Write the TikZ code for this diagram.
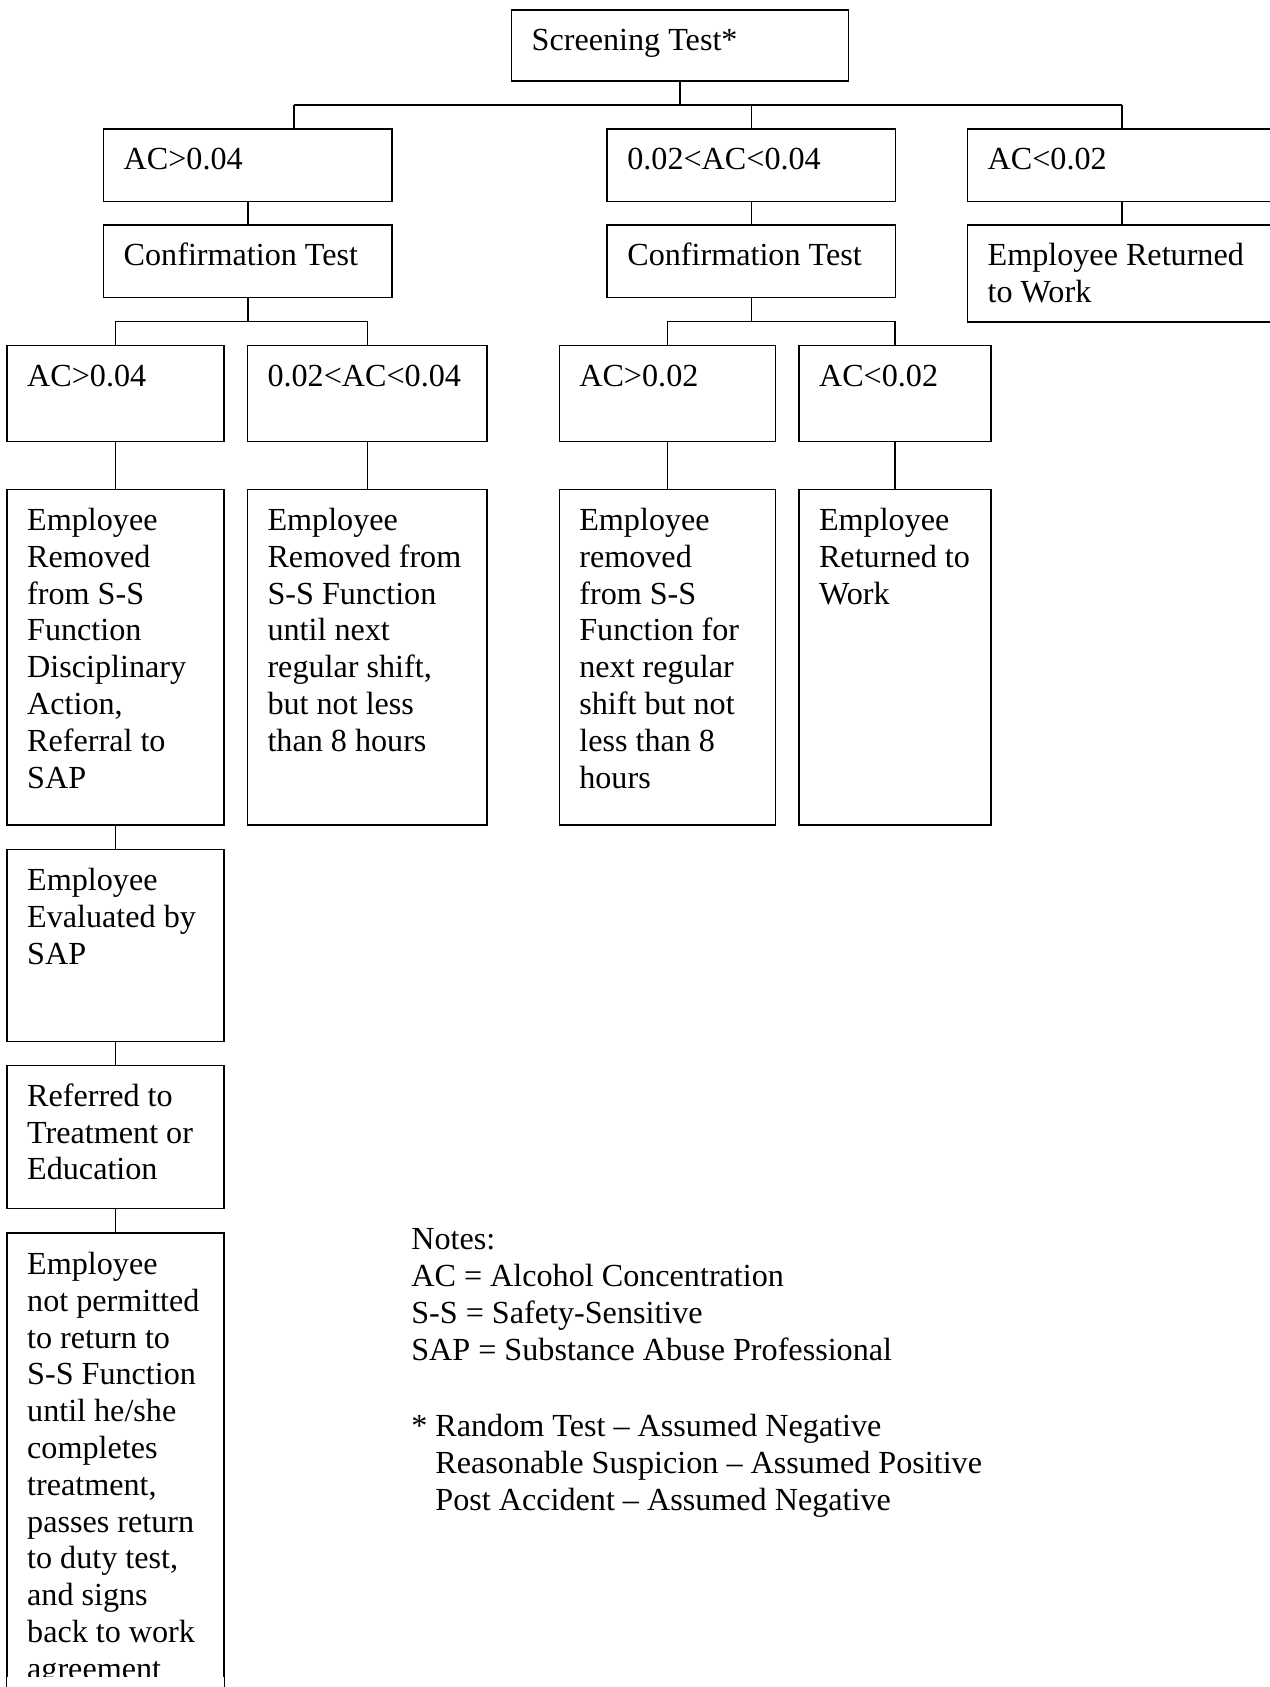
\documentclass[tikz,border=0pt]{standalone}
\usepackage{fontspec}
\setmainfont{Liberation Serif}
\usetikzlibrary{positioning}

\newlength\pxu
\setlength\pxu{0.4015pt}
% box contents: width, height (in px), text
\newcommand{\boxtext}[3]{\parbox[t][#2\pxu][t]{#1\pxu}{\raggedright\leftskip=7.5pt\rule{0pt}{15.3pt}#3}}

\begin{document}
\begin{tikzpicture}[x=0.4015pt, y=-0.4015pt, line width=0.55pt,
	box/.style={draw, inner sep=0pt, anchor=north west, font=\fontsize{12}{13.73}\selectfont},
	notes/.style={inner sep=0pt, anchor=north west, font=\fontsize{12}{13.73}\selectfont}]
	\useasboundingbox (0,0) rectangle (1180,1568);

	% top level
	\node[box] (screen) at (474.8,8.4) {\boxtext{313}{66}{Screening Test*}};
	\node[box] (acA) at (95.6,119.2) {\boxtext{268}{67.6}{AC>0.04}};
	\node[box] (acB) at (563.7,119.2) {\boxtext{268}{67.6}{0.02<AC<0.04}};
	\node[box] (acC) at (898.6,119.2) {\boxtext{330}{67.6}{AC<0.02}};
	\node[box] (confA) at (95.6,208.4) {\boxtext{268}{67.3}{Confirmation Test}};
	\node[box] (confB) at (563.7,208.4) {\boxtext{268}{67.3}{Confirmation Test}};
	\node[box] (backC) at (898.6,208.4) {\boxtext{330}{90}{Employee Returned\\to Work}};

	% confirmation results
	\node[box] (aA) at (5.9,320.5) {\boxtext{201.5}{89}{AC>0.04}};
	\node[box] (aB) at (229.3,320.5) {\boxtext{222.8}{89}{0.02<AC<0.04}};
	\node[box] (aC) at (519.1,320.5) {\boxtext{201}{89}{AC>0.02}};
	\node[box] (aD) at (741.9,320.5) {\boxtext{178.3}{89}{AC<0.02}};

	\node[box] (rmA) at (5.9,454.3) {\boxtext{201.5}{311.6}{Employee\\Removed\\from S-S\\Function\\Disciplinary\\Action,\\Referral to\\SAP}};
	\node[box] (rmB) at (229.3,454.3) {\boxtext{222.8}{311.6}{Employee\\Removed from\\S-S Function\\until next\\regular shift,\\but not less\\than 8 hours}};
	\node[box] (rmC) at (519.1,454.3) {\boxtext{201}{311.6}{Employee\\removed\\from S-S\\Function for\\next regular\\shift but not\\less than 8\\hours}};
	\node[box] (rtD) at (741.9,454.3) {\boxtext{178.3}{311.6}{Employee\\Returned to\\Work}};

	% SAP chain
	\node[box] (eval) at (5.9,788.9) {\boxtext{201.5}{178.3}{Employee\\Evaluated by\\SAP}};
	\node[box] (refer) at (5.9,989.5) {\boxtext{201.5}{133}{Referred to\\Treatment or\\Education}};
	\begin{scope}
		\clip (0,0) rectangle (1180,1558);
		\node[box] (perm) at (5.9,1145.9) {\boxtext{201.5}{460}{Employee\\not permitted\\to return to\\S-S Function\\until he/she\\completes\\treatment,\\passes return\\to duty test,\\and signs\\back to work\\agreement}};
	\end{scope}
	\draw (perm.north west) rectangle (perm.south east);

	% notes
	\node[notes] (legend) at (381.6,1123) {\parbox[t]{320pt}{\raggedright\rule{0pt}{15.3pt}Notes:\\
		AC = Alcohol Concentration\\
		S-S = Safety-Sensitive\\
		SAP = Substance Abuse Professional\\[14.8pt]
		* Random Test -- Assumed Negative\\
		\hphantom{*\ }Reasonable Suspicion -- Assumed Positive\\
		\hphantom{*\ }Post Accident -- Assumed Negative}};

	% connectors
	\coordinate (busL) at (273.2,97.6);
	\coordinate (busR) at (1043,97.6);
	\draw (busL) -- (busR);
	\draw (screen.south) -- (screen.south |- busL);
	\draw (busL) -- (busL |- acA.north);
	\draw (acB.north |- busL) -- (acB.north);
	\draw (busR) -- (busR |- acC.north);
	\draw (acA.south) -- (confA.north);
	\draw (acB.south) -- (confB.north);
	\draw (busR |- acC.south) -- (busR |- backC.north);
	\foreach \c/\t in {confA/aA, confA/aB, confB/aC, confB/aD}
		\draw (\c.south) -- ++(0,21.6) -| (\t.north);
	\foreach \a/\b in {aA/rmA, aB/rmB, aC/rmC, aD/rtD, rmA/eval, eval/refer, refer/perm}
		\draw (\a.south) -- (\b.north);
\end{tikzpicture}
\end{document}
